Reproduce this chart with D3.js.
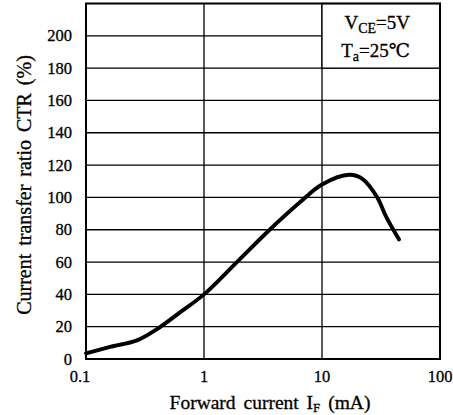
<!DOCTYPE html>
<meta charset="utf-8">
<title>CTR vs forward current</title>
<style>
  body { margin: 0; background: #fff; }
  svg text { font-family: 'Liberation Serif', 'DejaVu Serif', serif; fill: #000; stroke: #000; stroke-width: 0.3px; }
  .grid line { stroke: #000; stroke-width: 1.3px; }
  .frame { fill: none; stroke: #000; stroke-width: 2px; }
  .curve { fill: none; stroke: #000; stroke-width: 3.9px; stroke-linecap: round; stroke-linejoin: round; }
</style>
<body>
<svg width="453" height="415"></svg>
<script src="https://cdn.jsdelivr.net/npm/d3@7"></script>
<script>

// forward current IF (mA) and CTR (%)
var current = [0.1, 0.16, 0.27, 0.4, 0.63, 1, 1.9, 3.6, 6.5, 10, 17, 22, 29.4, 35, 45];
var ctr     = [3.5, 7.5, 11.5, 18.5, 29, 40, 60, 80, 97, 108, 114, 111.5, 100, 88, 74];

var xTicks = [0.1, 1, 10, 100];
var xTickLabels = ["0.1", "1", "10", "100"];
var yTicks = [0, 20, 40, 60, 80, 100, 120, 140, 160, 180, 200];

var svg = d3.select("svg");

var x = d3.scaleLog().domain([0.1, 100]).range([86, 440]);
var y = d3.scaleLinear().domain([0, 220]).range([359, 3.5]);

// grid
var grid = svg.append("g").attr("class", "grid");
grid.selectAll(".h")
    .data(yTicks.filter(function(d){ return d > 0; }))
    .enter().append("line")
    .attr("x1", x(0.1))
    .attr("x2", function(d){ return d == 200 ? x(10) : x(100); })
    .attr("y1", function(d){ return y(d); })
    .attr("y2", function(d){ return y(d); });
grid.selectAll(".v")
    .data([1, 10])
    .enter().append("line")
    .attr("x1", function(d){ return x(d); })
    .attr("x2", function(d){ return x(d); })
    .attr("y1", y(0))
    .attr("y2", y(220));

// condition box top right
svg.append("rect")
    .attr("x", x(10)).attr("y", y(220))
    .attr("width", x(100) - x(10)).attr("height", y(180) - y(220))
    .attr("fill", "#fff").attr("stroke", "#000").attr("stroke-width", 1.3);

var t1 = svg.append("text")
    .attr("x", x(100) - 30).attr("y", y(204.5))
    .attr("text-anchor", "end")
    .style("font-size", "19px");
t1.append("tspan").text("V");
t1.append("tspan").attr("dy", 4).style("font-size", "14px").text("CE");
t1.append("tspan").attr("dy", -4).text("=5V");

var t2 = svg.append("text")
    .attr("x", x(100) - 30).attr("y", y(187))
    .attr("text-anchor", "end")
    .style("font-size", "19px");
t2.append("tspan").text("T");
t2.append("tspan").attr("dy", 4).style("font-size", "14px").text("a");
t2.append("tspan").attr("dy", -4).text("=25\u2103");

// curve
var line = d3.line()
    .x(function(d){ return x(d[0]); })
    .y(function(d){ return y(d[1]); })
    .curve(d3.curveCatmullRom.alpha(0.5));

svg.append("path")
    .attr("class", "curve")
    .attr("d", line(d3.zip(current, ctr)));

// frame
svg.append("rect")
    .attr("class", "frame")
    .attr("x", x(0.1)).attr("y", y(220))
    .attr("width", x(100) - x(0.1)).attr("height", y(0) - y(220));

// tick labels
svg.selectAll(".xl")
    .data(xTicks)
    .enter().append("text")
    .attr("x", function(d){ return x(d) + (d == 0.1 ? -6 : 0); })
    .attr("y", 382)
    .attr("text-anchor", "middle")
    .style("font-size", "16.5px")
    .text(function(d, i){ return xTickLabels[i]; });

svg.selectAll(".yl")
    .data(yTicks)
    .enter().append("text")
    .attr("x", 72)
    .attr("y", function(d){ return y(d); })
    .attr("dy", "0.34em")
    .attr("text-anchor", "end")
    .style("font-size", "16.5px")
    .text(function(d){ return d; });

// axis titles
var xt = svg.append("text")
    .attr("x", 270).attr("y", 409)
    .attr("text-anchor", "middle")
    .style("font-size", "19.5px")
    .style("word-spacing", "3px");
xt.append("tspan").text("Forward current I");
xt.append("tspan").attr("dy", 3).style("font-size", "13px").text("F");
xt.append("tspan").attr("dy", -3).text(" (mA)");

svg.append("text")
    .attr("transform", "translate(31,185) rotate(-90)")
    .attr("text-anchor", "middle")
    .style("font-size", "20px")
    .style("word-spacing", "3px")
    .text("Current transfer ratio CTR (%)");

</script>
</body>
